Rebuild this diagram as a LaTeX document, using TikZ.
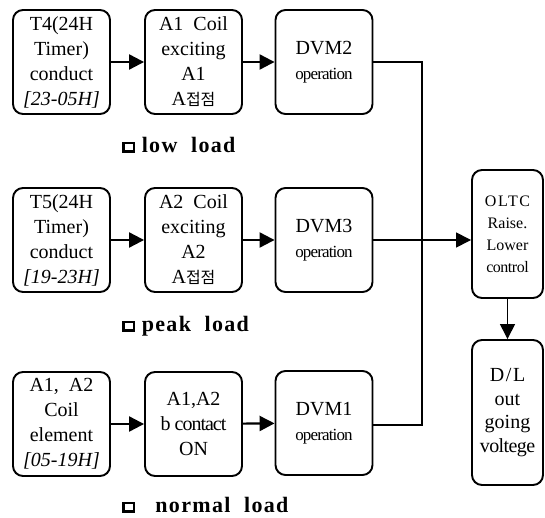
\documentclass[tikz,border=0pt]{standalone}
\usepackage{fontspec}
\setmainfont{Liberation Serif}
\newfontfamily\krfont{Noto Sans CJK KR}
\usetikzlibrary{arrows.meta}
\tikzset{
  blk/.style={draw, line width=1.9pt, rounded corners=10pt, align=center,
    minimum width=97pt, minimum height=104pt, inner sep=0pt,
    font=\fontsize{20}{25}\selectfont},
  narrow/.style={blk, minimum width=71pt},
  tip/.style={-{Triangle[length=15pt,width=15pt]}},
  flow/.style={line width=2.2pt, tip},
  thin/.style={line width=1.4pt},
  lbl/.style={anchor=west, inner sep=0pt,
    font=\fontsize{22}{24}\bfseries\addfontfeature{LetterSpace=6}}
}
\newcommand{\kr}[1]{{\krfont\fontsize{16}{25}\selectfont #1}}
\newcommand{\op}{{\fontsize{17}{25}\selectfont\addfontfeature{LetterSpace=-5}operation}}
\newcommand{\sq}{{\setlength{\fboxrule}{2.4pt}\setlength{\fboxsep}{0pt}\raisebox{2pt}{\fbox{\rule{0pt}{6pt}\rule{8pt}{0pt}}}}}
\begin{document}
\begin{tikzpicture}[x=1pt,y=-1pt]
\useasboundingbox (0,0) rectangle (545,518);
% row 1
\node[blk] (t4) at (61.5,62) {T4(24H\\Timer)\\conduct\\\textit{[23-05H]}};
\node[blk] (a1) at (193.5,62) {A1\ \ Coil\\exciting\\A1\\A\kr{접점}};
\node[blk] (dvm2) at (324,62) {DVM2\\\op};
% row 2
\node[blk] (t5) at (61.5,240) {T5(24H\\Timer)\\conduct\\\textit{[19-23H]}};
\node[blk] (a2) at (193.5,240) {A2\ \ Coil\\exciting\\A2\\A\kr{접점}};
\node[blk] (dvm3) at (324,240) {DVM3\\\op};
% row 3
\node[blk] (a12) at (61.5,424) {A1,\ \ A2\\Coil\\element\\\textit{[05-19H]}};
\node[blk] (bc) at (193.5,424) {A1,A2\\\addfontfeature{LetterSpace=-5}b contact\\ON};
\node[blk] (dvm1) at (324,423) {DVM1\\\op};
% right column
\node[narrow, minimum height=128pt, font=\fontsize{16}{22}\selectfont] (oltc) at (507.5,234)
  {\addfontfeature{LetterSpace=10}OLTC\\Raise.\\Lower\\\addfontfeature{LetterSpace=-3}control};
\node[narrow, minimum height=145pt, font=\fontsize{20}{23.5}\selectfont] (dl) at (507.5,412.5)
  {\addfontfeature{LetterSpace=8}D/L\\out\\going\\\addfontfeature{LetterSpace=-3}voltege};
% labels
\node[lbl] (l1) at (122,145) {\sq\ low\ \ load};
\node[lbl] (l2) at (122,326) {\sq\ peak\ \ load};
\node[lbl] (l3) at (122,505) {\sq\ \ \ normal\ \ load};
% connectors
\draw[flow] (t4) -- (a1);
\draw[flow] (a1) -- (dvm2);
\draw[flow] (t5) -- (a2);
\draw[flow] (a2) -- (dvm3);
\draw[flow] (a12) -- (bc);
\draw[flow] (bc) -- (dvm1);
\coordinate (j1) at (422,62);
\coordinate (j3) at (422,425);
\draw[thin] (dvm2.east) -- (j1) -- (j3) -- (j3 -| dvm1.east);
\draw[thin, tip] (dvm3.east) -- (dvm3.east -| oltc.west);
\draw[thin, tip] (oltc.south) -- (dl.north);
\end{tikzpicture}
\end{document}
